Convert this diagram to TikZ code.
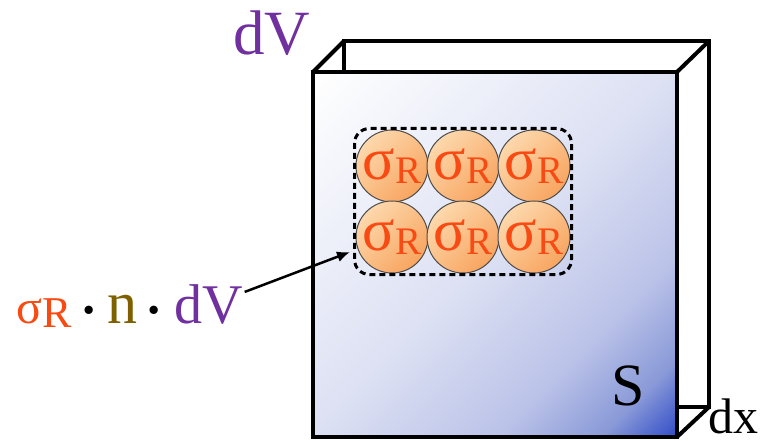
\documentclass[tikz,border=0pt]{standalone}
\usepackage{fontspec}
\setmainfont{Liberation Serif}
\usetikzlibrary{arrows.meta,fit,calc}
\definecolor{sigc}{HTML}{F84A12}
\definecolor{purp}{HTML}{7030A0}
\definecolor{brn}{HTML}{7F6000}
\definecolor{orl}{HTML}{FDD8AC}
\definecolor{ord}{HTML}{F8A560}
\definecolor{fbA}{HTML}{DCE0F3}
\definecolor{fbB}{HTML}{BAC2E8}
\definecolor{fbC}{HTML}{8A9AD8}
\definecolor{fbD}{HTML}{3550C8}
\pgfdeclarehorizontalshading{faceshade}{100bp}{color(0bp)=(white); color(15bp)=(white); color(50bp)=(fbA); color(68bp)=(fbB); color(78bp)=(fbC); color(85bp)=(fbD); color(100bp)=(fbD)}
\pgfdeclarehorizontalshading{ballshade}{100bp}{color(0bp)=(orl); color(25bp)=(orl); color(75bp)=(ord); color(100bp)=(ord)}
\newcommand{\sgr}{{\fontsize{60}{60}\selectfont σ}\raisebox{-4pt}{\fontsize{39}{39}\selectfont R}}
\newcommand{\mdt}{{\fontsize{70}{70}\selectfont\raisebox{-10pt}{·}}}
\tikzset{
  edge/.style={line width=4pt, line join=miter},
  ball/.style={circle, minimum size=72pt, inner sep=0pt, draw=black!70, line width=1pt,
    shading=ballshade, shading angle=-45, text=sigc},
  dbox/.style={draw, line width=3pt, dash pattern=on 6pt off 4pt, rounded corners=15pt, inner sep=1pt},
  arr/.style={line width=2.5pt, -{Latex[length=13pt,width=11pt]}},
}
\begin{document}
\begin{tikzpicture}[x=1pt,y=-1pt]
\useasboundingbox (0,0) rectangle (777,441);
% back edges
\draw[edge] (344,72) -- (344,41) -- (709,41) -- (709,407) -- (677,407);
\draw[edge] (313,72) -- (344,41);
\draw[edge] (677,72) -- (709,41);
\draw[edge] (677,437) -- (709,407);
% front face
\shade[shading=faceshade, shading angle=-45] (313,72) rectangle (677,437);
\draw[edge] (313,72) rectangle (677,437);
% balls
\node[ball] (c11) at (392,166) {\sgr};
\node[ball] (c12) at (463,166) {\sgr};
\node[ball] (c13) at (534,166) {\sgr};
\node[ball] (c21) at (392,237) {\sgr};
\node[ball] (c22) at (463,237) {\sgr};
\node[ball] (c23) at (534,237) {\sgr};
\node[dbox, fit=(c11)(c23)] (grp) {};
% labels
\node[anchor=base west, inner sep=0pt, text=purp, font=\fontsize{63}{63}\selectfont] (dvtop) at (233,55) {dV};
\node[anchor=base, inner sep=0pt, font=\fontsize{60}{60}\selectfont] (slab) at (628,405) {S};
\node[anchor=base west, inner sep=0pt, font=\fontsize{50}{50}\selectfont] (dx) at (708,433) {dx};
\node[anchor=base west, inner sep=0pt] (lab) at (16,323) {%
  \textcolor{sigc}{{\fontsize{48}{48}\selectfont σ}\raisebox{-4pt}{\fontsize{44}{44}\selectfont R}}%
  \fontsize{56}{56}\selectfont\kern6pt\mdt\kern7pt\textcolor{brn}{\fontsize{60}{60}\selectfont n}\kern5pt\mdt\kern8pt\textcolor{purp}{dV}};
\draw[arr] ([shift={(2,8)}]lab.north east) -- ([shift={(-3,-24)}]grp.south west);
\end{tikzpicture}
\end{document}
